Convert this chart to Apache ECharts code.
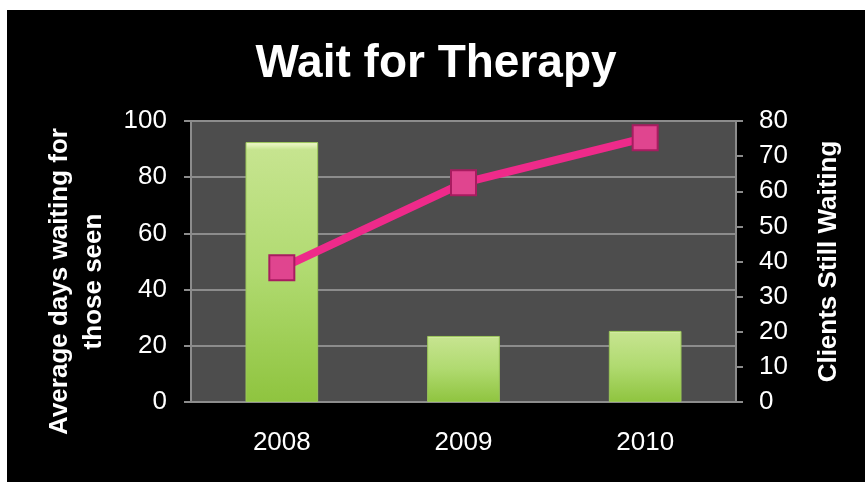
<!DOCTYPE html>
<html>
<head>
<meta charset="utf-8">
<script src="https://cdn.jsdelivr.net/npm/echarts@6/dist/echarts.min.js"></script>
<style>
  html, body { margin: 0; padding: 0; background: #fff; }
  #chart { position: absolute; left: 7px; top: 10px; width: 858px; height: 472px; background: #000; }
</style>
</head>
<body>
<div id="chart"></div>
<script>
const years = ['2008', '2009', '2010'];
const avgDays = [92.5, 23.5, 25.3];
const stillWaiting = [38.2, 62.4, 75.2];
const fontName = 'Liberation Sans, Arial, sans-serif';

const chart = echarts.init(document.getElementById('chart'));

const option = {
    backgroundColor: '#000',
    animation: false,
    title: {
        text: 'Wait for Therapy',
        left: 'center',
        top: 26,
        textStyle: { color: '#fff', fontSize: 46, fontWeight: 'bold', fontFamily: fontName }
    },
    grid: {
        left: 184, right: 129, top: 111, bottom: 80,
        show: true, backgroundColor: '#4d4d4d', borderWidth: 0
    },
    xAxis: {
        type: 'category',
        data: years,
        axisLine: { show: false },
        axisTick: { show: false },
        axisLabel: { color: '#fff', fontSize: 26, fontFamily: fontName, margin: 28 }
    },
    yAxis: [
        {
            type: 'value', min: 0, max: 100, interval: 20,
            name: 'Average days waiting for\nthose seen',
            nameLocation: 'middle', nameRotate: 90, nameGap: 80,
            nameTextStyle: {
                color: '#fff', fontSize: 26, fontWeight: 'bold', fontFamily: fontName,
                lineHeight: 34, padding: [0, 40, 0, 0]
            },
            axisLine: { show: true, lineStyle: { color: '#8c8c8c', width: 2 } },
            axisTick: { show: true, length: 7, lineStyle: { color: '#8c8c8c', width: 2 } },
            axisLabel: { color: '#fff', fontSize: 26, fontFamily: fontName, margin: 24 },
            splitLine: { lineStyle: { color: '#8c8c8c', width: 2 } }
        },
        {
            type: 'value', min: 0, max: 80, interval: 10,
            name: 'Clients Still Waiting',
            nameLocation: 'middle', nameRotate: 90, nameGap: 80,
            nameTextStyle: { color: '#fff', fontSize: 26, fontWeight: 'bold', fontFamily: fontName },
            axisLine: { show: true, lineStyle: { color: '#8c8c8c', width: 2 } },
            axisTick: { show: true, length: 7, lineStyle: { color: '#8c8c8c', width: 2 } },
            axisLabel: { color: '#fff', fontSize: 26, fontFamily: fontName, margin: 23 },
            splitLine: { show: false }
        }
    ],
    series: [
        {
            name: 'Average days waiting',
            type: 'bar',
            yAxisIndex: 0,
            data: avgDays,
            barWidth: '40%',
            itemStyle: {
                color: new echarts.graphic.LinearGradient(0, 0, 0, 1, [
                    { offset: 0, color: '#f4fad2' },
                    { offset: 0.03, color: '#c6e48f' },
                    { offset: 0.5, color: '#b0da70' },
                    { offset: 1, color: '#8fc43f' }
                ]),
                borderColor: '#9cc75a',
                borderWidth: 1
            }
        },
        {
            name: 'Clients Still Waiting',
            type: 'line',
            yAxisIndex: 1,
            data: stillWaiting,
            lineStyle: { color: '#ee2a8a', width: 8 },
            symbol: 'rect',
            symbolSize: 25,
            itemStyle: { color: '#e0458f', borderColor: '#a81c60', borderWidth: 2 }
        }
    ]
};

chart.setOption(option);
</script>
</body>
</html>
